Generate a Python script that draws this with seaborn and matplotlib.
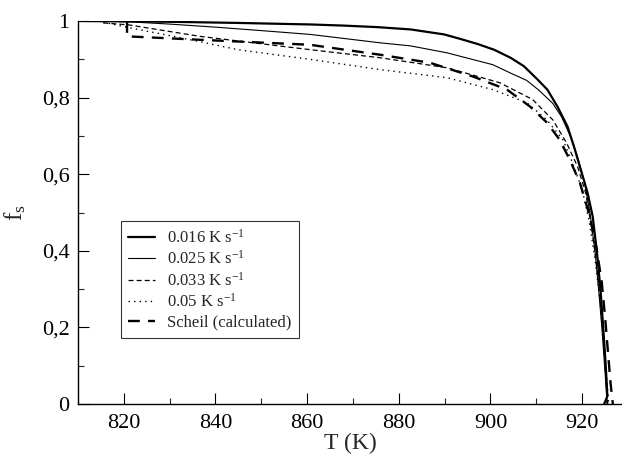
import pandas as pd
import matplotlib.pyplot as plt
import seaborn as sns
from matplotlib.ticker import MultipleLocator, FuncFormatter

# cooling rate curves
T_016 = [810.5, 830, 845, 860.8, 868.1, 875.4, 882.6, 889.9, 893.5, 897.2, 900.8, 904.4,
         907.3, 910.3, 912.4, 914.6, 916.8, 918.2, 919.7, 921.2, 922.3, 923.2, 924.0,
         924.6, 925.1, 925.4, 925.5, 924.8]
f_016 = [1.0, 0.998, 0.995, 0.991, 0.988, 0.984, 0.978, 0.965, 0.953, 0.940, 0.925, 0.904,
         0.882, 0.847, 0.821, 0.777, 0.725, 0.673, 0.612, 0.551, 0.490, 0.40, 0.30,
         0.20, 0.11, 0.045, 0.02, 0.0]

T_025 = [815, 821, 830, 840, 850, 860.7, 876, 882.6, 890.5, 895, 900.5, 904.4, 907.9,
         910.5, 913.6, 915.5, 917.4, 919, 920.5, 921.7, 922.8, 923.6, 924.3, 924.9, 925.3, 925.4]
f_025 = [1.0, 0.998, 0.992, 0.984, 0.975, 0.965, 0.943, 0.935, 0.917, 0.903, 0.886, 0.864, 0.845,
         0.820, 0.785, 0.750, 0.700, 0.645, 0.58, 0.50, 0.40, 0.30, 0.20, 0.10, 0.03, 0.0]

T_033 = [815.5, 821, 836.6, 860.8, 876, 890.5, 902, 909.2, 913.6, 916.6, 919, 920.8,
         922.2, 923.3, 924.1, 924.8, 925.3, 925.6]
f_033 = [0.995, 0.99, 0.96, 0.925, 0.904, 0.878, 0.839, 0.795, 0.742, 0.682, 0.62, 0.55,
         0.45, 0.35, 0.25, 0.15, 0.05, 0.0]

T_05 = [815.5, 821, 830, 837, 845, 860.6, 876, 890.5, 900.5, 907.9, 912.3, 915.8, 917.9,
        920, 921.5, 922.8, 923.8, 924.6, 925.3, 925.8]
f_05 = [0.997, 0.983, 0.962, 0.945, 0.925, 0.900, 0.873, 0.852, 0.821, 0.787, 0.742, 0.690, 0.630,
        0.56, 0.48, 0.38, 0.28, 0.18, 0.08, 0.0]

T_sch = [820.7, 820.7, 836.6, 860.6, 875.9, 886.8, 896.2, 903.6, 908.6, 912.3, 915.1, 917.3,
         919.5, 921.7, 923.2, 924.3, 925.0, 925.6, 926.2, 926.7]
f_sch = [1.0, 0.960, 0.951, 0.938, 0.912, 0.891, 0.855, 0.821, 0.777, 0.735, 0.690, 0.638,
         0.578, 0.489, 0.403, 0.316, 0.228, 0.141, 0.055, 0.0]

labels = ['0.016 K s$^{-1}$', '0.025 K s$^{-1}$', '0.033 K s$^{-1}$', '0.05 K s$^{-1}$',
          'Scheil (calculated)']

sns.set_style('ticks')
plt.rcParams['font.family'] = ['Liberation Serif', 'DejaVu Serif']
plt.rcParams['mathtext.fontset'] = 'custom'
plt.rcParams['mathtext.rm'] = 'Liberation Serif'
plt.rcParams['mathtext.it'] = 'Liberation Serif'

fig = plt.figure(figsize=(6.22, 4.61), dpi=100)
ax = fig.add_axes([0.1254, 0.1236, 0.8746, 0.8308])

styles = [
    dict(lw=1.6, ls='-'),
    dict(lw=0.8, ls='-'),
    dict(lw=0.9, ls=(0, (4, 2.5))),
    dict(lw=1.0, ls=(0, (1, 3))),
    dict(lw=1.7, ls=(0, (5, 3.5))),
]
series = [(T_016, f_016), (T_025, f_025), (T_033, f_033), (T_05, f_05), (T_sch, f_sch)]

for (t, f), lab, st in zip(series, labels, styles):
    df = pd.DataFrame({'T': t, 'fs': f})
    sns.lineplot(data=df, x='T', y='fs', sort=False, estimator=None, color='black',
                 linewidth=st['lw'], linestyle=st['ls'], label=lab, ax=ax)

ax.set_xlim(810, 928.7)
ax.set_ylim(0, 1)
ax.xaxis.set_major_locator(MultipleLocator(20))
ax.xaxis.set_minor_locator(MultipleLocator(10))
ax.yaxis.set_major_locator(MultipleLocator(0.2))
ax.yaxis.set_minor_locator(MultipleLocator(0.1))
ax.set_xticks([820, 840, 860, 880, 900, 920])

def comma(v, pos):
    s = f'{v:.1f}'.rstrip('0').rstrip('.')
    return s.replace('.', ',')

ax.yaxis.set_major_formatter(FuncFormatter(comma))
ax.tick_params(which='major', direction='in', length=8, width=0.8, labelsize=16, colors='black')
ax.tick_params(which='minor', direction='in', length=4, width=0.8)
ax.tick_params(axis='x', pad=7)
ax.tick_params(axis='y', pad=6)
for s in ['top', 'right']:
    ax.spines[s].set_visible(False)
for s in ['left', 'bottom']:
    ax.spines[s].set_color('black')
    ax.spines[s].set_linewidth(1.0)

ax.set_xlabel('T (K)', fontsize=17, labelpad=0)
ax.set_ylabel('f$_\\mathrm{s}$', fontsize=18, labelpad=10)

leg = ax.legend(loc='upper left', bbox_to_anchor=(0.079, 0.478), borderaxespad=0,
                fontsize=12, frameon=True, fancybox=False, edgecolor='black',
                handlelength=1.6, labelspacing=0.22, borderpad=0.45, handletextpad=0.7)
leg.get_frame().set_linewidth(0.8)

fig.savefig('out.png', dpi=100)
